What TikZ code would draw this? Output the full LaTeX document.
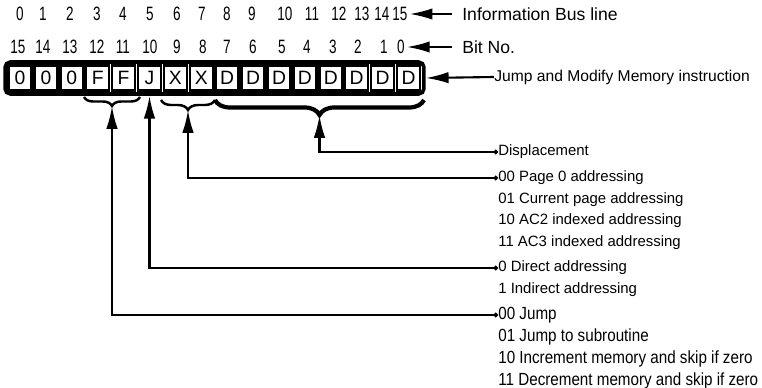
\documentclass[tikz,border=0pt]{standalone}
\usepackage{fontspec}
\setmainfont{Liberation Sans}
\newfontfamily\narrowsf[FakeStretch=0.865]{Liberation Sans}
\newfontfamily\digitsf[FakeStretch=0.7]{Liberation Sans}
\usetikzlibrary{arrows.meta, decorations.pathreplacing, positioning}

\begin{document}
\begin{tikzpicture}[x=0.02cm, y=-0.02cm,
  cell/.style={draw, line width=1.4pt, minimum width=0.46cm, minimum height=0.5cm,
               inner sep=0pt, font=\fontsize{11}{12}\selectfont},
  num/.style={inner sep=1pt, font=\digitsf\fontsize{11}{12}\selectfont},
  lbl/.style={anchor=west, inner sep=0pt, font=\fontsize{10}{12}\selectfont},
  sub/.style={anchor=west, inner sep=0pt, font=\fontsize{8.5}{10}\selectfont},
  op/.style={anchor=west, inner sep=0pt, font=\narrowsf\fontsize{10}{12}\selectfont},
  arr/.style={-{Latex[length=13pt, width=6.5pt]}, line width=1.2pt},
  link/.style={{Circle[length=2.5pt]}-{Latex[length=13pt, width=6.5pt]}, line width=1.2pt},
  fbrace/.style={decorate, decoration={brace, mirror, amplitude=#1}, line width=1.4pt}
]
  \useasboundingbox (0,0) rectangle (762,388);

  % bus lines and bit numbers
  \foreach \n/\x in {0/20, 1/43, 2/70, 3/97, 4/123, 5/150, 6/177, 7/202,
                     8/227, 9/252, 10/285, 11/312, 12/339, 13/362, 14/382, 15/400}
    \node[num] (bus\n) at (\x,14) {\n};
  \foreach \n/\x in {15/18, 14/43, 13/70, 12/97, 11/123, 10/150, 9/177, 8/203,
                     7/227, 6/253, 5/282, 4/307, 3/333, 2/358, 1/384, 0/401}
    \node[num] (bit\n) at (\x,47) {\n};

  % instruction word
  \node[draw, line width=2pt, rounded corners=3pt, minimum width=8.38cm,
        minimum height=0.64cm] (reg) at (214.5,78) {};
  \foreach \v [count=\i from 0] in {0,0,0,F,F,J,X,X,D,D,D,D,D,D,D,D}
    \node[cell] (c\i) at ({20+25.9*\i},78) {\v};

  \node[lbl] (buslbl) at (462,14) {Information Bus line};
  \node[lbl] (bitlbl) at (462,47) {Bit No.};
  \node[lbl, font=\fontsize{8.9}{11}\selectfont] (jmplbl) at (494,77)
    {Jump and Modify Memory instruction};
  \draw[arr, shorten <=0.2cm] (buslbl.west) -- (bus15.east);
  \draw[arr, shorten <=0.2cm] (bitlbl.west) -- (bit0.east);
  \draw[arr] (jmplbl.west) -- (reg.east);

  % field braces
  \draw[fbrace=0.18cm] (84,97) -- (140,97);
  \draw[fbrace=0.2cm] (161,100) -- (215,100);
  \draw[fbrace=0.3cm, line width=2.4pt] (215,100) -- (424,100);
  \coordinate (fftip) at (112,106);
  \coordinate (xxtip) at (188,110);
  \coordinate (dtip) at (319.5,115);

  % field meanings
  \node[sub] (disp) at (498,152) {Displacement};
  \node[sub] (xx0) at (498,178) {00 Page 0 addressing};
  \node[sub] (xx1) at (498,199.5) {01 Current page addressing};
  \node[sub] (xx2) at (498,221) {10 AC2 indexed addressing};
  \node[sub] (xx3) at (498,242.5) {11 AC3 indexed addressing};
  \node[sub] (ind0) at (498,268) {0 Direct addressing};
  \node[sub] (ind1) at (498,289.5) {1 Indirect addressing};
  \node[op] (op0) at (498,315) {00 Jump};
  \node[op] (op1) at (498,337) {01 Jump to subroutine};
  \node[op] (op2) at (498,359) {10 Increment memory and skip if zero};
  \node[op] (op3) at (498,380.5) {11 Decrement memory and skip if zero};

  \draw[link] (disp.west) -| (dtip);
  \draw[link] (xx0.west) -| (xxtip);
  \draw[link] (ind0.west) -| (c5 |- reg.south);
  \draw[link] (op0.west) -| (fftip);
\end{tikzpicture}
\end{document}
